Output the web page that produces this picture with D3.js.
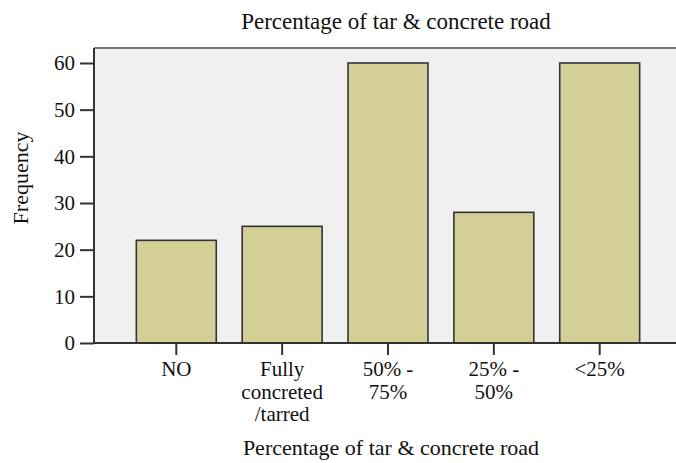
<!DOCTYPE html>
<html>
<head>
<meta charset="utf-8">
<script src="https://cdn.jsdelivr.net/npm/d3@7"></script>
<style>
  body { margin: 0; background: #fff; }
  svg text { font-family: "Liberation Serif", Tinos, "Times New Roman", Times, "Nimbus Roman", "DejaVu Serif", serif !important; fill: #111; }
</style>
</head>
<body>
<svg id="chart"></svg>
<script>
// chart data
var categories = ["NO", "Fully concreted /tarred", "50% - 75%", "25% - 50%", "<25%"];
var labelLines = [["NO"], ["Fully", "concreted", "/tarred"], ["50% -", "75%"], ["25% -", "50%"], ["<25%"]];
var frequency = [22, 25, 60, 28, 60];
var yTicks = [0, 10, 20, 30, 40, 50, 60];
var title = "Percentage of tar & concrete road";
var xTitle = "Percentage of tar & concrete road";
var yTitle = "Frequency";

var svgWidth = 676, svgHeight = 463;
var plot = { left: 94, top: 48, right: 682, bottom: 343 };

var svg = d3.select("#chart").attr("width", svgWidth).attr("height", svgHeight);

var xScale = d3.scaleBand()
  .domain(categories)
  .range([plot.left, plot.right])
  .paddingInner(0.245)
  .paddingOuter(0.4);

var yScale = d3.scaleLinear()
  .domain([0, 60])
  .range([plot.bottom, plot.bottom - 280]);

// plot background
svg.append("rect")
  .attr("x", plot.left).attr("y", plot.top)
  .attr("width", plot.right - plot.left).attr("height", plot.bottom - plot.top)
  .attr("fill", "#f0f0f0");

// top border
svg.append("line")
  .attr("x1", plot.left).attr("x2", plot.right)
  .attr("y1", plot.top).attr("y2", plot.top)
  .attr("stroke", "#777").attr("stroke-width", 2);

// bars
svg.selectAll(".bar")
  .data(frequency)
  .enter()
  .append("rect")
  .attr("class", "bar")
  .attr("x", function(d, i){ return xScale(categories[i]); })
  .attr("y", function(d){ return yScale(d); })
  .attr("width", xScale.bandwidth())
  .attr("height", function(d){ return yScale(0) - yScale(d); })
  .attr("fill", "#d3cf96")
  .attr("stroke", "#333")
  .attr("stroke-width", 1.6);

// y axis
var yAxis = d3.axisLeft(yScale).tickValues(yTicks).tickSize(14).tickPadding(5);
var gy = svg.append("g")
  .attr("transform", "translate(" + plot.left + ",0)")
  .call(yAxis)
  .attr("font-family", null);
gy.select(".domain").attr("stroke", "#333").attr("stroke-width", 2)
  .attr("d", "M0," + plot.top + "V" + plot.bottom);
gy.selectAll(".tick line").attr("stroke", "#333").attr("stroke-width", 2);
gy.selectAll(".tick text")
  .style("font-size", "21px")
  .attr("fill", "#111");

// x axis
var xAxis = d3.axisBottom(xScale).tickSize(12).tickFormat("");
var gx = svg.append("g")
  .attr("transform", "translate(0," + plot.bottom + ")")
  .call(xAxis);
gx.select(".domain").attr("stroke", "#333").attr("stroke-width", 2)
  .attr("d", "M" + plot.left + ",0H" + plot.right);
gx.selectAll(".tick line").attr("stroke", "#333").attr("stroke-width", 2);

// category labels
var labels = svg.selectAll(".xlabel")
  .data(categories)
  .enter()
  .append("g")
  .attr("class", "xlabel");

labels.each(function(d, i){
  var g = d3.select(this);
  labelLines[i].forEach(function(line, j){
    g.append("text")
      .attr("text-anchor", "middle")
      .style("font-size", "21px")
      .attr("x", xScale(d) + xScale.bandwidth() / 2)
      .attr("y", plot.bottom + 33 + j * 22.5)
      .text(line);
  });
});

// titles
svg.append("text")
  .attr("x", 396).attr("y", 29)
  .attr("text-anchor", "middle")
  .style("font-size", "23px")
  .text(title);

svg.append("text")
  .attr("x", 391).attr("y", 455)
  .attr("text-anchor", "middle")
  .style("font-size", "22px")
  .text(xTitle);

svg.append("text")
  .attr("transform", "translate(28,178) rotate(-90)")
  .attr("text-anchor", "middle")
  .style("font-size", "22px")
  .text(yTitle);
</script>
</body>
</html>
